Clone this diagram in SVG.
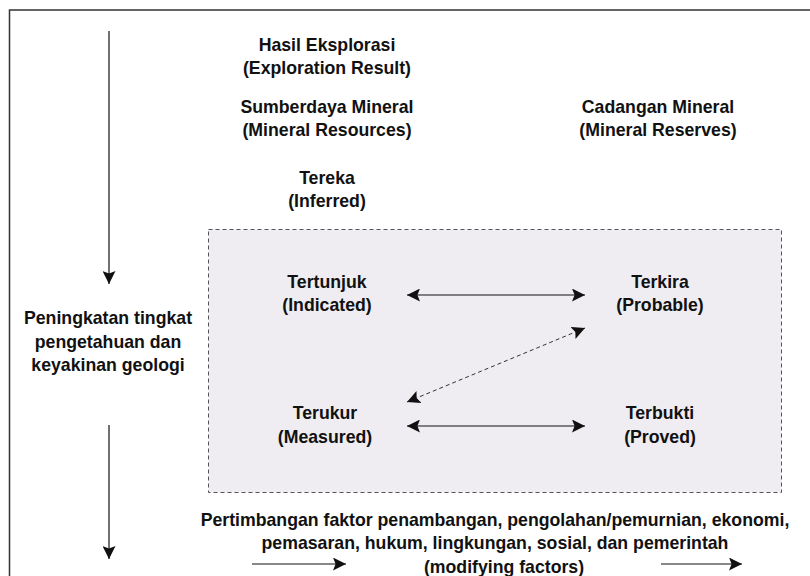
<svg xmlns="http://www.w3.org/2000/svg" width="810" height="576" viewBox="0 0 810 576">
<style>
text{font-family:"Liberation Sans",Arial,sans-serif;font-weight:bold;font-size:17.7px;fill:#111;text-anchor:middle}
.ln{stroke:#111;stroke-width:1.2;fill:none}
.dash{stroke:#333;stroke-width:1;stroke-dasharray:4,3;fill:none}
</style>
<defs>
<marker id="ahv" viewBox="0 0 10 10" refX="10" refY="5" markerWidth="13" markerHeight="13" markerUnits="userSpaceOnUse" orient="auto-start-reverse"><path d="M0,0L10,5L0,10L2,5Z" fill="#111"/></marker>
</defs>
<rect width="810" height="576" fill="#fff"/>
<g id="frame"><path d="M9.5,576V10H810" stroke="#333" stroke-width="1.5" fill="none"/></g>
<g id="zone"><rect x="208.5" y="229.5" width="573" height="263" fill="#efedf2" stroke="#555" stroke-width="1" stroke-dasharray="4,3"/></g>
<g id="connectors">
<line class="ln" x1="109" y1="31" x2="109" y2="284" marker-end="url(#ahv)"/>
<line class="ln" x1="109" y1="425" x2="109" y2="559" marker-end="url(#ahv)"/>
<line class="ln" x1="407" y1="295" x2="585" y2="295" marker-start="url(#ahv)" marker-end="url(#ahv)"/>
<line class="ln" x1="407" y1="426" x2="585" y2="426" marker-start="url(#ahv)" marker-end="url(#ahv)"/>
<line class="dash" x1="407" y1="402" x2="585" y2="328" marker-start="url(#ahv)" marker-end="url(#ahv)"/>
<line class="ln" x1="252" y1="564" x2="346" y2="564" marker-end="url(#ahv)"/>
<line class="ln" x1="661" y1="564" x2="742" y2="564" marker-end="url(#ahv)"/>
</g>
<g id="hasil"><text x="327" y="51">Hasil Eksplorasi</text><text x="327" y="74">(Exploration Result)</text></g>
<g id="sumberdaya"><text x="327" y="113">Sumberdaya Mineral</text><text x="327" y="136">(Mineral Resources)</text></g>
<g id="cadangan"><text x="658" y="113">Cadangan Mineral</text><text x="658" y="136">(Mineral Reserves)</text></g>
<g id="tereka"><text x="327" y="184">Tereka</text><text x="327" y="207">(Inferred)</text></g>
<g id="tertunjuk"><text x="327" y="288">Tertunjuk</text><text x="327" y="311">(Indicated)</text></g>
<g id="terkira"><text x="660" y="288">Terkira</text><text x="660" y="311">(Probable)</text></g>
<g id="terukur"><text x="325" y="419">Terukur</text><text x="325" y="443">(Measured)</text></g>
<g id="terbukti"><text x="660" y="419">Terbukti</text><text x="660" y="443">(Proved)</text></g>
<g id="peningkatan"><text x="108" y="324">Peningkatan tingkat</text><text x="108" y="348">pengetahuan dan</text><text x="108" y="371">keyakinan geologi</text></g>
<g id="pertimbangan"><text x="495" y="526">Pertimbangan faktor penambangan, pengolahan/pemurnian, ekonomi,</text><text x="495" y="549">pemasaran, hukum, lingkungan, sosial, dan pemerintah</text><text x="504" y="573">(modifying factors)</text></g>
</svg>
